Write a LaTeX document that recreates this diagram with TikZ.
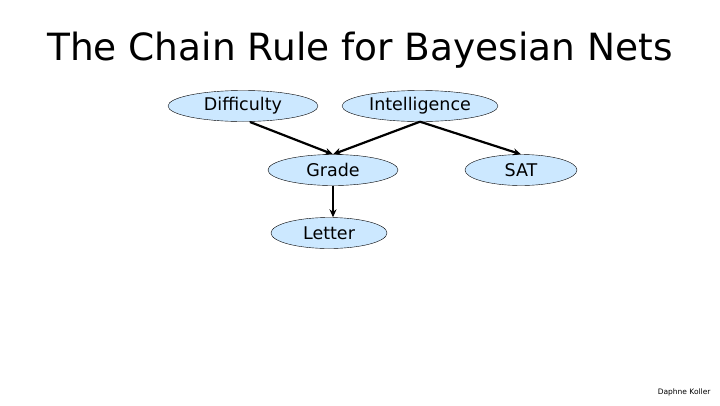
\documentclass[tikz,border=0pt]{standalone}
\usepackage{fontspec}
\setmainfont{DejaVu Sans}
\usetikzlibrary{arrows.meta,shapes.geometric}
\definecolor{nodeblue}{RGB}{204, 232, 255}
\tikzset{
    bnnode/.style={ellipse, draw=black, fill=nodeblue, inner sep=0pt,
        minimum height=31, font=\fontsize{17.5}{20}\selectfont},
    bnedge/.style={-{Stealth[length=8pt, width=7pt]}, line width=2.2pt}
}

\begin{document}
\begin{tikzpicture}[x=1pt, y=-1pt]

    \useasboundingbox[fill=white] (0, 0) rectangle (720, 405);

    \node (title) at (360, 50) {\fontsize{37.5}{42}\selectfont The Chain Rule for Bayesian Nets};

    \node[bnnode, minimum width=150] (difficulty) at (243, 106) {Difficulty};
    \node[bnnode, minimum width=156] (intelligence) at (420, 106) {Intelligence};
    \node[bnnode, minimum width=130] (grade) at (333, 170) {Grade};
    \node[bnnode, minimum width=112] (sat) at (521, 170) {SAT};
    \node[bnnode, minimum width=116] (letter) at (329, 233) {Letter};

    \draw[bnedge] (250, 122) -- (grade.north);
    \draw[bnedge] (intelligence.south) -- (grade.north);
    \draw[bnedge] (intelligence.south) -- (sat.north);
    \draw[bnedge] (grade.south) -- (grade.south |- letter.north);

    \node[anchor=east, font=\fontsize{7.5}{8}\selectfont] (author) at (714, 392) {Daphne Koller};

\end{tikzpicture}
\end{document}
